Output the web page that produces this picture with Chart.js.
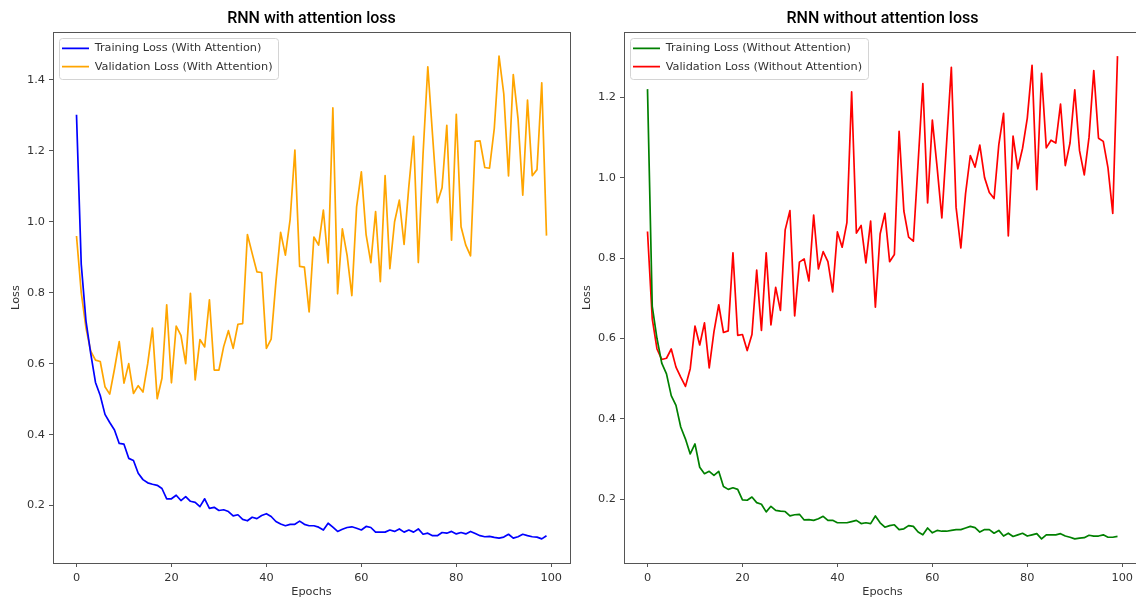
<!DOCTYPE html>
<html>
<head>
<meta charset="utf-8">
<script src="https://cdn.jsdelivr.net/npm/chart.js"></script>
<style>
html, body { margin: 0; padding: 0; background: #fff; overflow: hidden; width: 1136px; height: 600px; }
canvas { position: absolute; top: 0; }
#c1 { left: 0; }
#c2 { left: 571px; }
</style>
</head>
<body>
<canvas id="c1" width="572" height="600"></canvas>
<canvas id="c2" width="572" height="600"></canvas>
<script>
// ---- data ----
const epochs = [0,1,2,3,4,5,6,7,8,9,10,11,12,13,14,15,16,17,18,19,20,21,22,23,24,25,26,27,28,29,
30,31,32,33,34,35,36,37,38,39,40,41,42,43,44,45,46,47,48,49,50,51,52,53,54,55,56,57,58,59,
60,61,62,63,64,65,66,67,68,69,70,71,72,73,74,75,76,77,78,79,80,81,82,83,84,85,86,87,88,89,
90,91,92,93,94,95,96,97,98,99];

const trainLossAtt = [1.302,0.88,0.72,0.628,0.547,0.51,0.457,0.434,0.413,0.375,
0.373,0.333,0.327,0.291,0.273,0.264,0.26,0.257,0.248,0.219,
0.219,0.229,0.214,0.225,0.212,0.209,0.197,0.219,0.192,0.195,
0.186,0.188,0.183,0.171,0.174,0.161,0.157,0.167,0.163,0.172,
0.177,0.169,0.155,0.148,0.143,0.147,0.147,0.156,0.147,0.143,
0.143,0.139,0.131,0.15,0.139,0.127,0.133,0.138,0.14,0.136,
0.131,0.141,0.138,0.125,0.125,0.125,0.131,0.127,0.134,0.125,
0.131,0.125,0.134,0.119,0.122,0.115,0.115,0.124,0.122,0.127,
0.12,0.124,0.12,0.127,0.121,0.115,0.112,0.113,0.11,0.108,
0.111,0.119,0.108,0.112,0.119,0.115,0.112,0.111,0.106,0.115];

const valLossAtt = [0.96,0.80,0.70,0.635,0.61,0.606,0.535,0.514,0.585,0.662,
0.545,0.60,0.516,0.538,0.52,0.60,0.70,0.501,0.559,0.766,
0.546,0.706,0.68,0.60,0.798,0.554,0.668,0.647,0.78,0.582,
0.582,0.648,0.693,0.643,0.711,0.713,0.964,0.911,0.859,0.857,
0.643,0.669,0.83,0.97,0.906,1.007,1.202,0.874,0.872,0.746,
0.957,0.934,1.033,0.884,1.321,0.797,0.98,0.905,0.792,1.042,
1.141,0.964,0.885,1.029,0.831,1.13,0.868,1.0,1.061,0.936,
1.099,1.241,0.885,1.192,1.437,1.244,1.054,1.096,1.272,0.948,
1.303,0.986,0.934,0.904,1.227,1.228,1.153,1.151,1.263,1.467,
1.361,1.129,1.415,1.291,1.075,1.343,1.13,1.147,1.392,0.961];

const trainLossNoAtt = [1.22,0.68,0.60,0.539,0.512,0.458,0.434,0.38,0.35,0.313,
0.338,0.28,0.264,0.27,0.26,0.27,0.232,0.225,0.229,0.225,
0.199,0.198,0.206,0.192,0.188,0.169,0.183,0.173,0.171,0.17,
0.159,0.162,0.163,0.149,0.15,0.148,0.152,0.158,0.148,0.148,
0.142,0.142,0.142,0.145,0.148,0.14,0.142,0.14,0.159,0.142,
0.131,0.135,0.137,0.125,0.127,0.135,0.133,0.119,0.112,0.129,
0.117,0.123,0.121,0.121,0.123,0.125,0.125,0.129,0.133,0.13,
0.119,0.125,0.125,0.116,0.123,0.109,0.116,0.108,0.112,0.116,
0.109,0.112,0.115,0.102,0.112,0.112,0.112,0.115,0.109,0.106,
0.102,0.104,0.105,0.111,0.109,0.109,0.112,0.106,0.106,0.108];

const valLossNoAtt = [0.866,0.649,0.574,0.548,0.551,0.574,0.529,0.504,0.481,0.525,
0.631,0.584,0.639,0.527,0.617,0.684,0.615,0.619,0.813,0.608,
0.61,0.57,0.61,0.77,0.62,0.813,0.634,0.727,0.67,0.87,
0.918,0.656,0.79,0.798,0.743,0.907,0.773,0.816,0.791,0.716,
0.865,0.827,0.888,1.213,0.862,0.881,0.788,0.892,0.678,0.86,
0.911,0.791,0.809,1.115,0.917,0.852,0.842,1.037,1.234,0.937,
1.143,1.026,0.9,1.086,1.274,0.926,0.825,0.961,1.055,1.026,
1.081,1.0,0.963,0.948,1.082,1.16,0.855,1.103,1.022,1.073,
1.148,1.279,0.97,1.259,1.074,1.093,1.086,1.183,1.03,1.086,
1.218,1.067,1.007,1.1,1.266,1.098,1.09,1.024,0.911,1.302];

const xTicks = [0, 20, 40, 60, 80, 100];
const yTicksAtt = [0.2, 0.4, 0.6, 0.8, 1.0, 1.2, 1.4];
const yTicksNoAtt = [0.2, 0.4, 0.6, 0.8, 1.0, 1.2];

const titleAtt = 'RNN with attention loss';
const titleNoAtt = 'RNN without attention loss';
const labelsAtt = ['Training Loss (With Attention)', 'Validation Loss (With Attention)'];
const labelsNoAtt = ['Training Loss (Without Attention)', 'Validation Loss (Without Attention)'];

// ---- helpers ----
const TEXT_FONT = { family: "'DejaVu Sans', sans-serif", size: 11.3 };
const LEGEND_PAD = 7;

function autoRange(lo, hi) { // matplotlib-like 5% margins
  const r = hi - lo;
  return [lo - 0.05 * r, hi + 0.05 * r];
}

const framePlugin = {
  id: 'axesFrame',
  afterDatasetsDraw(chart) {
    const { ctx, chartArea: a } = chart;
    ctx.save();
    ctx.strokeStyle = '#555';
    ctx.lineWidth = 1;
    const l = Math.round(a.left - 0.5) + 0.5, t = Math.round(a.top - 0.5) + 0.5;
    const r = Math.round(a.right - 0.5) + 0.5, b = Math.round(a.bottom - 0.5) + 0.5;
    ctx.strokeRect(l, t, r - l, b - t);
    ctx.restore();
  }
};

const legendPlacePlugin = {
  id: 'legendPlace',
  afterLayout(chart) {
    const lg = chart.legend;
    if (!lg) return;
    const a = chart.chartArea;
    const w = lg.width, h = lg.height;
    lg.left = a.left + 2; lg.right = lg.left + w;
    lg.top = a.top + 3.7; lg.bottom = lg.top + h;
  },
  beforeDraw(chart) {
    const lg = chart.legend;
    if (!lg || !lg.legendHitBoxes || !lg.legendHitBoxes.length) return;
    const ctx = chart.ctx;
    const fs = TEXT_FONT.size;
    const n = lg.legendItems.length;
    let maxW = 0;
    lg.legendHitBoxes.forEach(hb => { maxW = Math.max(maxW, hb.width); });
    const itemX = lg.left + LEGEND_PAD;
    const itemsTop = lg.top + LEGEND_PAD;
    const x0 = itemX - 3.5, y0 = itemsTop - 4.7;
    const x1 = itemX + maxW + 5;
    const y1 = itemsTop + n * (fs + LEGEND_PAD) - LEGEND_PAD + 6.7;
    ctx.save();
    ctx.beginPath();
    ctx.roundRect(Math.round(x0) + 0.5, Math.round(y0) + 0.5, Math.round(x1 - x0), Math.round(y1 - y0), 3);
    ctx.fillStyle = 'rgba(255,255,255,0.8)';
    ctx.fill();
    ctx.strokeStyle = '#d4d4d4';
    ctx.lineWidth = 1;
    ctx.stroke();
    ctx.restore();
  }
};

function makeChart(canvasId, title, train, val, labels, colors, yTicks) {
  const all = train.concat(val);
  const [yMin, yMax] = autoRange(Math.min(...all), Math.max(...all));
  const [xMin, xMax] = autoRange(epochs[0], epochs[epochs.length - 1]);
  const toPts = arr => arr.map((v, i) => ({ x: epochs[i], y: v }));
  return new Chart(document.getElementById(canvasId), {
    type: 'line',
    data: {
      datasets: [
        { label: labels[0], data: toPts(train), borderColor: colors[0], backgroundColor: colors[0],
          borderWidth: 1.7, pointRadius: 0, tension: 0, borderJoinStyle: 'round', fill: false },
        { label: labels[1], data: toPts(val), borderColor: colors[1], backgroundColor: colors[1],
          borderWidth: 1.7, pointRadius: 0, tension: 0, borderJoinStyle: 'round', fill: false }
      ]
    },
    options: {
      responsive: false,
      animation: false,
      devicePixelRatio: 1,
      layout: { padding: { left: 0, top: 0, right: 2, bottom: 0 } },
      plugins: {
        title: {
          display: true, text: title, fullSize: false, color: '#000',
          font: { family: "Roboto, 'DejaVu Sans', sans-serif", size: 16, weight: '500' },
          padding: { top: 9.6, bottom: 3.2 }
        },
        legend: {
          display: true, position: 'chartArea', align: 'start',
          labels: {
            usePointStyle: true, pointStyle: 'line', pointStyleWidth: 27,
            padding: LEGEND_PAD, color: '#333', font: TEXT_FONT
          }
        },
        tooltip: { enabled: false }
      },
      scales: {
        x: {
          type: 'linear', min: xMin, max: xMax,
          afterBuildTicks: s => { s.ticks = xTicks.map(v => ({ value: v })); },
          afterFit: s => { s.height = 37; },
          grid: { drawOnChartArea: false, drawTicks: true, tickLength: 4, color: '#555', lineWidth: 1 },
          border: { display: false },
          ticks: { padding: 4, color: '#333', font: TEXT_FONT, maxRotation: 0, autoSkip: false,
                   callback: v => String(v) },
          title: { display: true, text: 'Epochs', color: '#333', font: TEXT_FONT, padding: { top: 0, bottom: 1 } }
        },
        y: {
          type: 'linear', min: yMin, max: yMax,
          afterBuildTicks: s => { s.ticks = yTicks.map(v => ({ value: v })); },
          afterFit: s => { s.width = 53; },
          grid: { drawOnChartArea: false, drawTicks: true, tickLength: 4, color: '#555', lineWidth: 1 },
          border: { display: false },
          ticks: { padding: 4, color: '#333', font: TEXT_FONT, autoSkip: false,
                   callback: v => Number(v).toFixed(1) },
          title: { display: true, text: 'Loss', color: '#333', font: TEXT_FONT, padding: { top: 9, bottom: 0 } }
        }
      }
    },
    plugins: [framePlugin, legendPlacePlugin]
  });
}

makeChart('c1', titleAtt, trainLossAtt, valLossAtt, labelsAtt, ['#0000ff', '#ffa500'], yTicksAtt);
makeChart('c2', titleNoAtt, trainLossNoAtt, valLossNoAtt, labelsNoAtt, ['#008000', '#ff0000'], yTicksNoAtt);
</script>
</body>
</html>
